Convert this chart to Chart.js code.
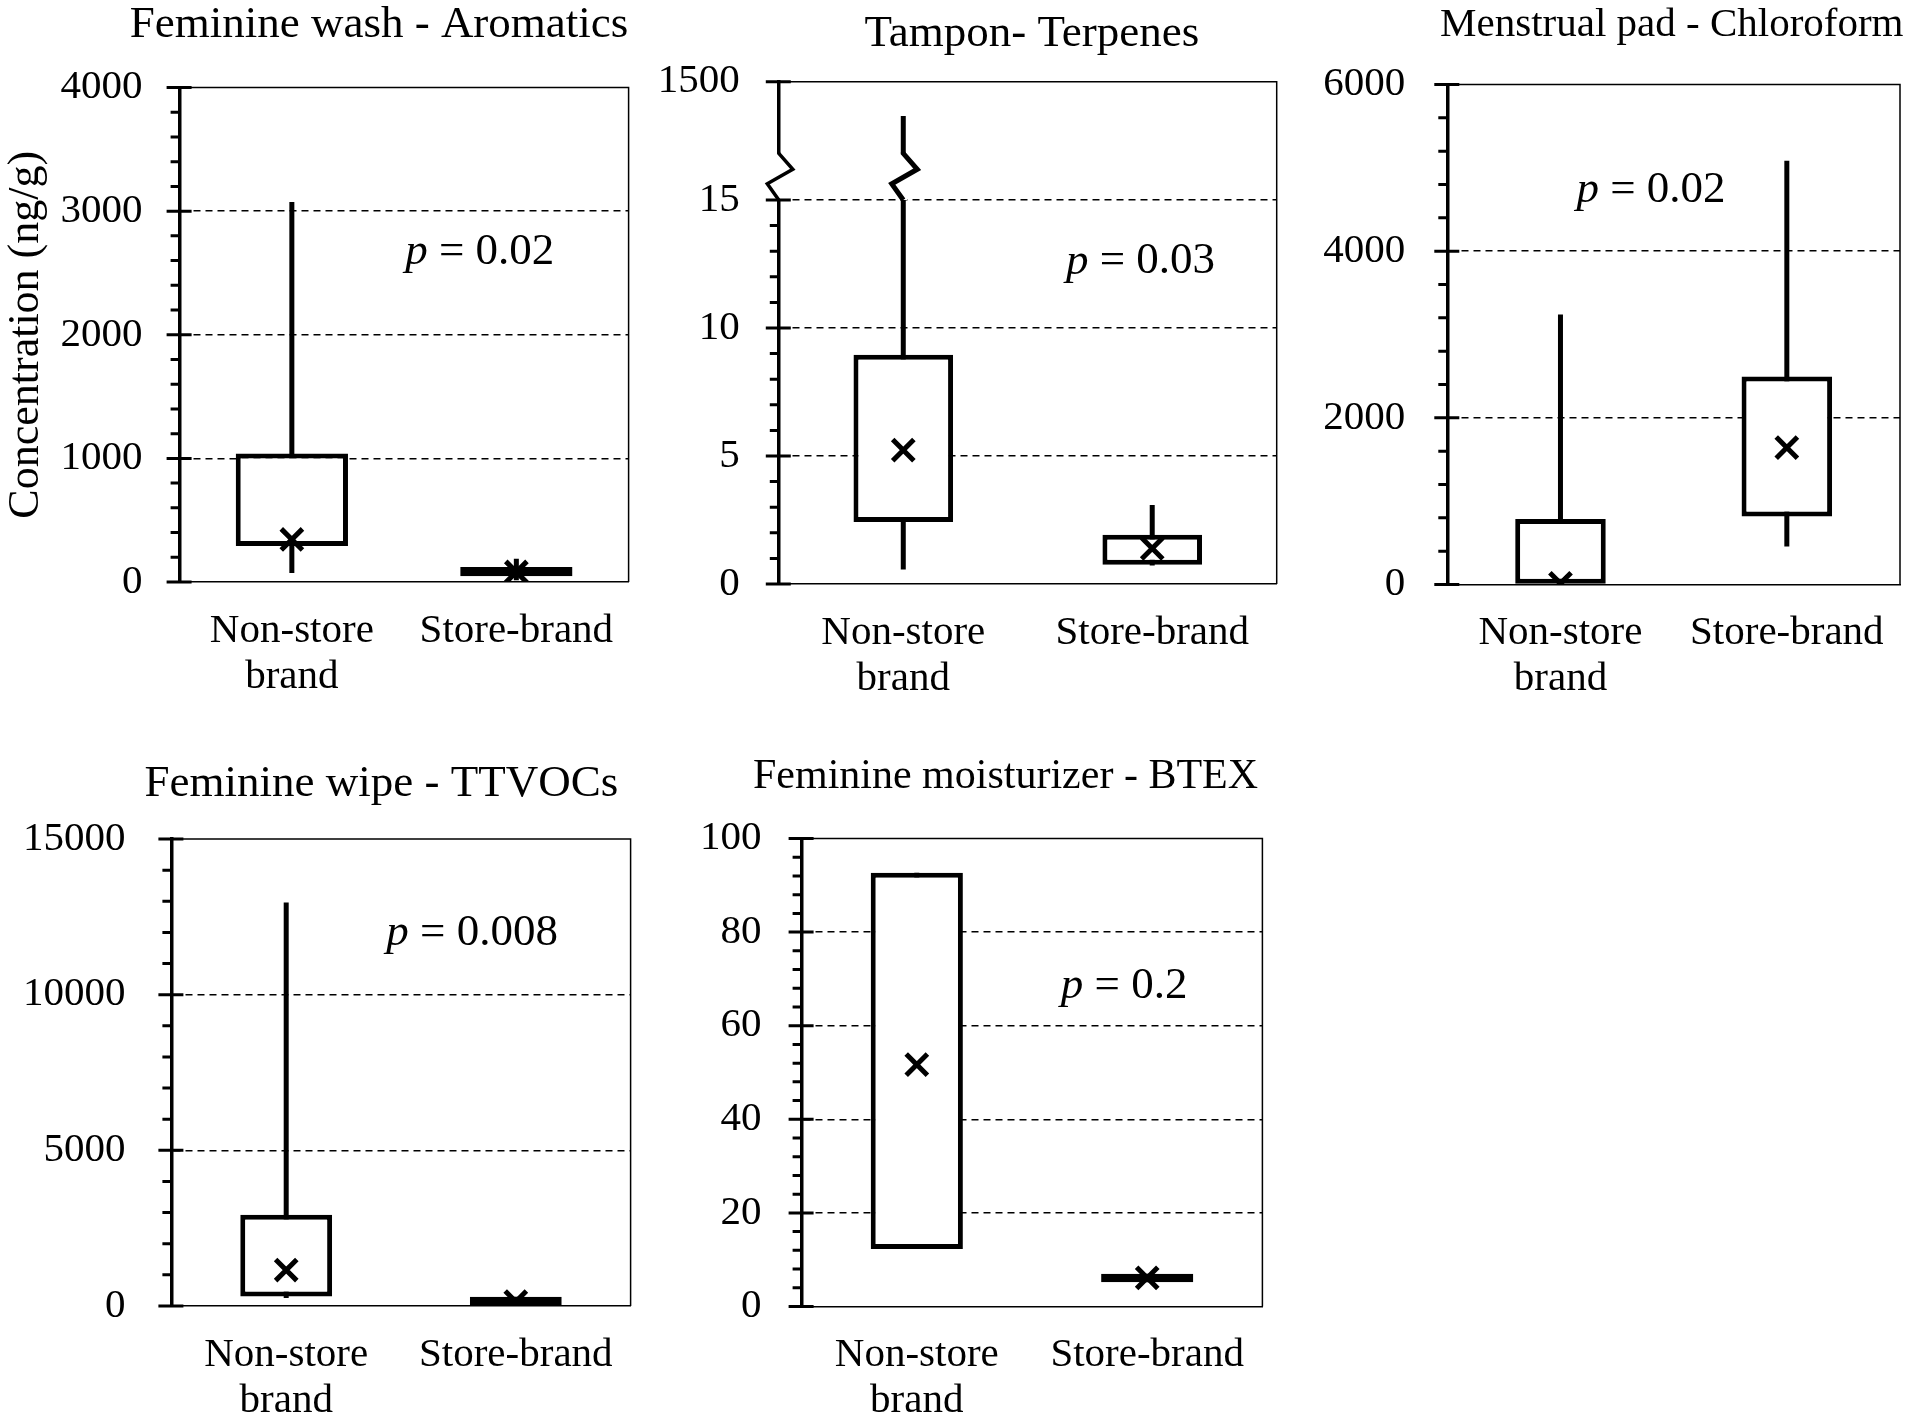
<!DOCTYPE html>
<html lang="en">
<head>
    <meta charset="UTF-8">
    <title>Store-brand vs non-store brand VOCs</title>
    <script src="https://cdn.jsdelivr.net/npm/chart.js"></script>
    <style>
        body { margin: 0; background: #fff; }
        #wrap { position: relative; width: 1920px; height: 1428px; background: #fff; }
        #wrap canvas { position: absolute; }
    </style>
</head>
<body>
    <div id="wrap">
        <canvas id="washChart"></canvas>
        <canvas id="tamponChart"></canvas>
        <canvas id="padChart"></canvas>
        <canvas id="wipeChart"></canvas>
        <canvas id="moistChart"></canvas>
    </div>

    <script>
        const categories = [['Non-store', 'brand'], 'Store-brand'];

        // Feminine wash - Aromatics (ng/g)
        const washLow = [73, 14];
        const washQ1 = [291, 46];
        const washQ3 = [1039, 121];
        const washHigh = [3074, 189];
        const washMean = [344, 81];
        const washTicks = [0, 1000, 2000, 3000, 4000];

        // Tampon - Terpenes (axis broken above 15, top label 1500)
        const tamponLow = [0.57, 0.72];
        const tamponQ1 = [2.42, 0.75];
        const tamponQ3 = [8.95, 1.92];
        const tamponHigh = [1069, 3.09];
        const tamponMean = [5.23, 1.39];
        const tamponTicks = [0, 5, 10, 15, 1500];

        // Menstrual pad - Chloroform
        const padLow = [0, 456];
        const padQ1 = [0, 816];
        const padQ3 = [787, 2496];
        const padHigh = [3240, 5086];
        const padMean = [15, 1642];
        const padTicks = [0, 2000, 4000, 6000];

        // Feminine wipe - TTVOCs
        const wipeLow = [257, 32];
        const wipeQ1 = [308, 32];
        const wipeQ3 = [2929, 298];
        const wipeHigh = [12964, 298];
        const wipeMean = [1156, 138];
        const wipeTicks = [0, 5000, 10000, 15000];

        // Feminine moisturizer - BTEX
        const moistLow = [12.3, 5.2];
        const moistQ1 = [12.3, 5.2];
        const moistQ3 = [92.7, 7.0];
        const moistHigh = [92.7, 7.0];
        const moistMean = [51.7, 6.1];
        const moistTicks = [0, 20, 40, 60, 80, 100];

        const pValues = ['0.02', '0.03', '0.02', '0.008', '0.2'];

        // compressed segment of the tampon axis above the break
        const BREAK_AT = 15, BREAK_TOP = 1500, BREAK_SPAN = 4.62;
        const breakScale = v => v <= BREAK_AT ? v : BREAK_AT + (v - BREAK_AT) / (BREAK_TOP - BREAK_AT) * BREAK_SPAN;

        const SERIF = '"Liberation Serif", "Times New Roman", serif';
        Chart.defaults.font.family = SERIF;
        Chart.defaults.color = '#000';

        function makeChart(p, d) {
            const canvas = document.getElementById(p.id);
            canvas.width = p.w;
            canvas.height = p.h;
            canvas.style.left = p.left + 'px';
            canvas.style.top = p.top + 'px';
            const f = d.map || (v => v);
            const yMax = f(d.ticks[d.ticks.length - 1]);

            const decor = {
                id: 'decor',
                beforeDatasetsDraw(chart) {
                    const {ctx, chartArea: a} = chart;
                    ctx.save();
                    ctx.strokeStyle = '#000';
                    ctx.lineWidth = 1.5;
                    ctx.beginPath();
                    ctx.moveTo(a.left, a.top);
                    ctx.lineTo(a.right, a.top);
                    ctx.lineTo(a.right, a.bottom);
                    ctx.stroke();
                    ctx.restore();
                },
                afterDraw(chart) {
                    const {ctx, chartArea: a} = chart;
                    const y = chart.scales.y, x = chart.scales.x;
                    ctx.save();
                    ctx.strokeStyle = '#000';

                    // axis break zigzags
                    if (p.brk) {
                        const zig = (cx, w) => {
                            const top = y.getPixelForValue(p.brk[0]), bot = y.getPixelForValue(BREAK_AT);
                            ctx.fillStyle = '#fff';
                            ctx.fillRect(cx - 4, top, 8, bot - top);
                            ctx.lineWidth = w;
                            ctx.lineJoin = 'miter';
                            ctx.beginPath();
                            ctx.moveTo(cx, top - 1);
                            ctx.lineTo(cx, top);
                            ctx.lineTo(cx + 14, y.getPixelForValue(p.brk[1]));
                            ctx.lineTo(cx - 11.5, y.getPixelForValue(p.brk[2]));
                            ctx.lineTo(cx, bot);
                            ctx.stroke();
                        };
                        zig(a.left, 3.5);
                        zig(x.getPixelForValue(0), 5);
                    }

                    // major and minor tick marks
                    ctx.lineWidth = 3;
                    ctx.beginPath();
                    d.ticks.forEach(v => {
                        const py = y.getPixelForValue(f(v));
                        ctx.moveTo(a.left - 13, py);
                        ctx.lineTo(a.left + 12, py);
                    });
                    const majors = d.ticks.map(f);
                    for (let v = p.minor; v < p.minorMax - 1e-9; v += p.minor) {
                        if (majors.some(m => Math.abs(m - v) < 1e-6)) continue;
                        const py = y.getPixelForValue(v);
                        ctx.moveTo(a.left - 9, py);
                        ctx.lineTo(a.left, py);
                    }
                    ctx.stroke();

                    // panel title
                    ctx.fillStyle = '#000';
                    ctx.textBaseline = 'middle';
                    ctx.textAlign = 'center';
                    ctx.font = p.titleSize + 'px ' + SERIF;
                    ctx.fillText(p.title, p.titleX - p.left, p.titleY - p.top);

                    // p value
                    const px = x.getPixelForValue(p.pPos[0]);
                    const py = y.getPixelForValue(f(p.pPos[1]));
                    ctx.textAlign = 'left';
                    ctx.font = 'italic 45px ' + SERIF;
                    const w1 = ctx.measureText('p').width;
                    ctx.font = '45px ' + SERIF;
                    const rest = ' = ' + p.pText;
                    const w2 = ctx.measureText(rest).width;
                    const sx = px - (w1 + w2) / 2;
                    ctx.font = 'italic 45px ' + SERIF;
                    ctx.fillText('p', sx, py);
                    ctx.font = '45px ' + SERIF;
                    ctx.fillText(rest, sx + w1, py);
                    ctx.restore();
                }
            };

            return new Chart(canvas, {
                type: 'bar',
                data: {
                    labels: categories,
                    datasets: [
                        {
                            type: 'line',
                            data: d.mean.map(f),
                            showLine: false,
                            pointStyle: 'crossRot',
                            pointRadius: 15,
                            pointHoverRadius: 15,
                            pointBorderWidth: 5,
                            pointBorderColor: '#000',
                            borderColor: '#000',
                            order: 0
                        },
                        {
                            data: d.q1.map((v, i) => [f(v), f(d.q3[i])]),
                            backgroundColor: '#fff',
                            borderColor: '#000',
                            borderWidth: 5,
                            borderSkipped: false,
                            inflateAmount: 0,
                            barPercentage: p.barPct,
                            categoryPercentage: 1,
                            grouped: false,
                            order: 1
                        },
                        {
                            data: d.low.map((v, i) => [f(v), f(d.high[i])]),
                            backgroundColor: '#000',
                            barThickness: 5,
                            inflateAmount: 0,
                            grouped: false,
                            order: 2
                        }
                    ]
                },
                options: {
                    responsive: false,
                    animation: false,
                    layout: {
                        padding: {
                            left: 0,
                            top: p.area.t - p.top,
                            right: p.left + p.w - p.area.r,
                            bottom: 0
                        }
                    },
                    plugins: { legend: { display: false }, tooltip: { enabled: false } },
                    scales: {
                        x: {
                            type: 'category',
                            offset: true,
                            grid: { display: false, drawTicks: false },
                            border: { display: true, color: '#000', width: 1.5 },
                            ticks: {
                                color: '#000',
                                font: { size: 41, lineHeight: 1.12 },
                                padding: 26,
                                maxRotation: 0,
                                autoSkip: false
                            },
                            afterFit: s => { s.height = p.top + p.h - p.area.b; }
                        },
                        y: {
                            min: 0,
                            max: yMax,
                            afterBuildTicks: s => { s.ticks = d.ticks.map(v => ({ value: f(v) })); },
                            ticks: {
                                color: '#000',
                                autoSkip: false,
                                font: { size: 41 },
                                padding: p.tickPad,
                                callback: (v, i) => String(d.ticks[i])
                            },
                            grid: {
                                drawTicks: false,
                                lineWidth: 1.5,
                                color: c => (c.tick && (c.tick.value <= 0 || c.tick.value >= yMax - 1e-9)) ? 'rgba(0,0,0,0)' : '#000'
                            },
                            border: { display: true, color: '#000', width: 3.5, dash: [7, 5] },
                            title: {
                                display: !!p.yTitle,
                                text: p.yTitle || '',
                                color: '#000',
                                font: { size: 44 },
                                padding: 0
                            },
                            afterFit: s => { s.width = p.area.l - p.left; }
                        }
                    }
                },
                plugins: [decor]
            });
        }

        makeChart(
            { id: 'washChart', left: 0, top: 0, w: 660, h: 720, area: { l: 179.6, t: 87.5, r: 628.6, b: 582 },
              barPct: 0.5, minor: 200, minorMax: 4000, tickPad: 37, yTitle: 'Concentration (ng/g)',
              title: 'Feminine wash - Aromatics', titleX: 379, titleY: 25, titleSize: 45,
              pText: pValues[0], pPos: [0.837, 2664] },
            { low: washLow, q1: washQ1, q3: washQ3, high: washHigh, mean: washMean, ticks: washTicks }
        );

        makeChart(
            { id: 'tamponChart', left: 640, top: 0, w: 660, h: 720, area: { l: 778.8, t: 81.7, r: 1276.7, b: 584 },
              barPct: 0.4, minor: 1, minorMax: 15, tickPad: 39, brk: [16.82, 16.2, 15.63],
              title: 'Tampon- Terpenes', titleX: 1031.8, titleY: 34, titleSize: 45,
              pText: pValues[1], pPos: [0.953, 12.59] },
            { low: tamponLow, q1: tamponQ1, q3: tamponQ3, high: tamponHigh, mean: tamponMean, ticks: tamponTicks, map: breakScale }
        );

        makeChart(
            { id: 'padChart', left: 1290, top: 0, w: 630, h: 720, area: { l: 1447.3, t: 84.5, r: 1904.5, b: 584.5 },
              barPct: 0.4, minor: 400, minorMax: 6000, tickPad: 42,
              title: 'Menstrual pad - Chloroform', titleX: 1671.8, titleY: 25, titleSize: 41,
              pText: pValues[2], pPos: [0.40, 4731] },
            { low: padLow, q1: padQ1, q3: padQ3, high: padHigh, mean: padMean, ticks: padTicks }
        );

        makeChart(
            { id: 'wipeChart', left: 0, top: 730, w: 660, h: 698, area: { l: 171.4, t: 839, r: 630.6, b: 1306 },
              barPct: 0.4, minor: 1000, minorMax: 15000, tickPad: 46,
              title: 'Feminine wipe - TTVOCs', titleX: 381.4, titleY: 784, titleSize: 45,
              pText: pValues[3], pPos: [0.81, 11978] },
            { low: wipeLow, q1: wipeQ1, q3: wipeQ3, high: wipeHigh, mean: wipeMean, ticks: wipeTicks }
        );

        makeChart(
            { id: 'moistChart', left: 670, top: 730, w: 620, h: 698, area: { l: 801.6, t: 838.5, r: 1262.4, b: 1306.5 },
              barPct: 0.4, minor: 4, minorMax: 100, tickPad: 40,
              title: 'Feminine moisturizer - BTEX', titleX: 1005.5, titleY: 777.3, titleSize: 42,
              pText: pValues[4], pPos: [0.90, 68.5] },
            { low: moistLow, q1: moistQ1, q3: moistQ3, high: moistHigh, mean: moistMean, ticks: moistTicks }
        );
    </script>
</body>
</html>
